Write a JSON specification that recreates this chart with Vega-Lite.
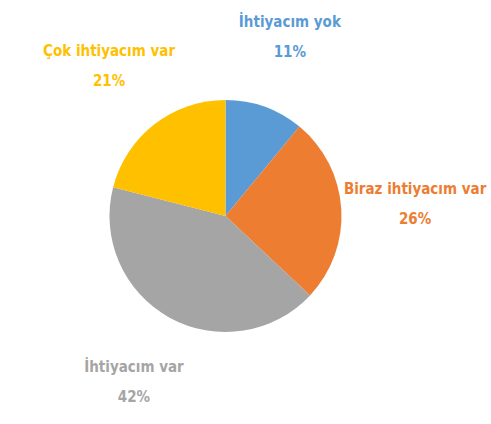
{
  "$schema": "https://vega.github.io/schema/vega-lite/v6.json",
  "autosize": {"type": "none"},
  "width": 451,
  "height": 416,
  "padding": {"left": 0, "right": 40, "top": 8, "bottom": 0},
  "background": "white",
  "view": {"stroke": null},
  "data": {
    "values": [
      {"category": "İhtiyacım yok", "share": 0.11, "rank": 1},
      {"category": "Biraz ihtiyacım var", "share": 0.26, "rank": 2},
      {"category": "İhtiyacım var", "share": 0.42, "rank": 3},
      {"category": "Çok ihtiyacım var", "share": 0.21, "rank": 4}
    ]
  },
  "encoding": {
    "theta": {"field": "share", "type": "quantitative", "stack": true},
    "order": {"field": "rank", "type": "quantitative", "sort": "ascending"},
    "color": {
      "field": "category",
      "type": "nominal",
      "scale": {
        "domain": ["İhtiyacım yok", "Biraz ihtiyacım var", "İhtiyacım var", "Çok ihtiyacım var"],
        "range": ["#5B9BD5", "#ED7D31", "#A5A5A5", "#FFC000"]
      },
      "legend": null
    }
  },
  "layer": [
    {"mark": {"type": "arc", "outerRadius": 116}},
    {
      "mark": {"type": "text", "radius": 190, "dy": -15, "font": "DejaVu Sans Condensed, sans-serif", "fontWeight": "bold", "fontSize": 15},
      "encoding": {"text": {"field": "category"}}
    },
    {
      "mark": {"type": "text", "radius": 190, "dy": 15, "font": "DejaVu Sans Condensed, sans-serif", "fontWeight": "bold", "fontSize": 15},
      "encoding": {"text": {"field": "share", "format": ".0%"}}
    }
  ]
}
